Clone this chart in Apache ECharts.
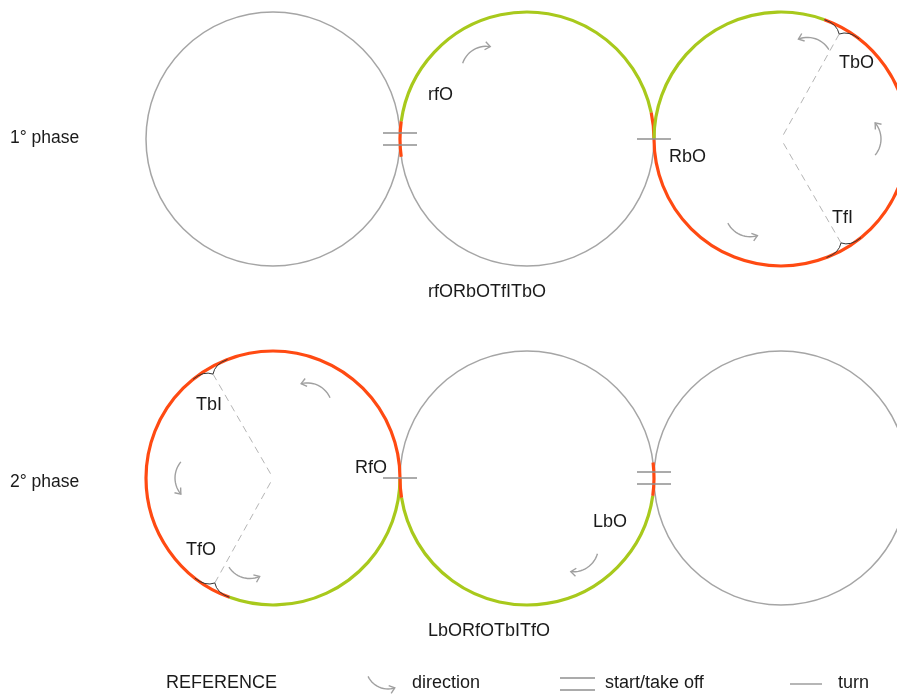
<!DOCTYPE html>
<html><head><meta charset="utf-8">
<script src="https://cdn.jsdelivr.net/npm/echarts@6/dist/echarts.min.js"></script>
<style>html,body{margin:0;padding:0;background:#fff}#c{width:897px;height:694px}</style>
</head><body><div id="c"></div>
<script>
// ---- diagram data ----
const RADIUS = 127;
const circleCenters = [[273,139],[527,139],[781,139],[273,478],[527,478],[781,478]];
// coloured edges: [circle, fromDeg, toDeg (counter-clockwise), edge]
const arcSegments = [
  [1,172,188,'red'],[1,12,172,'green'],[1,0,12,'red'],
  [2,70,180,'green'],[2,180,430,'red'],
  [3,0,250,'red'],[3,250,360,'green'],
  [4,180,189,'red'],[4,189,352,'green'],[4,352,367,'red']
];
// three-turns: [circle, angleDeg]
const turnAngles = [[2,61],[2,-60],[3,120],[3,241]];
// take-off / change marks: [circle, angleDeg, lines]
const takeoffMarks = [[1,180,2],[1,0,1],[4,180,1],[4,0,2]];
// direction arrows: [circle, angleDeg, direction (1 ccw, -1 cw), distance from centre]
const directionArrows = [[1,121,-1,104],[2,71,1,106],[2,0,1,100],[2,247,1,104],
                         [3,64,1,103],[3,180,1,98],[3,253,1,104],[4,304,-1,108]];
const phaseLabels = ['1° phase','2° phase'];
const elementLabels = ['rfO','RbO','TbO','TfI','TbI','RfO','TfO','LbO'];
const sequenceLabels = ['rfORbOTfITbO','LbORfOTbITfO'];
const legendLabels = ['REFERENCE','direction','start/take off','turn'];

// ---- layout / style ----
const EDGE = {gray:'#a5a5a5', green:'#a8c91c', red:'#ff4a12'};
const FONT = '"Liberation Sans", Arial, sans-serif';
const phaseLabelPos = [[10,138],[10,482]];
const elementLabelPos = [[428,95],[669,157],[839,63],[832,218],[196,405],[355,468],[186,550],[593,522]];
const sequenceLabelPos = [[487,292],[489,631]];
const legendLabelPos = [[166,683],[412,683],[605,683],[838,683]];

const D2R = Math.PI/180;
function rPx(api){ return api.size([RADIUS,RADIUS])[0]; }
function polarAxis(ci, deg, dist){
  const c = circleCenters[ci];
  return [c[0] + dist*Math.cos(deg*D2R), c[1] - dist*Math.sin(deg*D2R)];
}
function arrowShapes(api, sx, sy, rho, a0, a1, color){
  const pts = [];
  const n = 14;
  for (let k=0;k<=n;k++){
    const a = (a0 + (a1-a0)*k/n)*D2R;
    pts.push(api.coord([sx + rho*Math.cos(a), sy - rho*Math.sin(a)]));
  }
  const e = a1*D2R, dir = a1 > a0 ? 1 : -1;
  const end = pts[pts.length-1];
  const tx = -dir*Math.sin(e), ty = -dir*Math.cos(e);
  const bx = -tx, by = -ty, L = 6.5, h = 38*D2R;
  const h1 = [end[0] + L*(bx*Math.cos(h) - by*Math.sin(h)), end[1] + L*(bx*Math.sin(h) + by*Math.cos(h))];
  const h2 = [end[0] + L*(bx*Math.cos(-h) - by*Math.sin(-h)), end[1] + L*(bx*Math.sin(-h) + by*Math.cos(-h))];
  return [
    {type:'polyline', shape:{points:pts}, style:{stroke:color, lineWidth:1.4, fill:'none'}},
    {type:'polyline', shape:{points:[h1,end,h2]}, style:{stroke:color, lineWidth:1.4, fill:'none'}}
  ];
}
function textEl(api, txt, pos, size, align){
  const p = api.coord(pos);
  return {type:'text', style:{text:txt, x:p[0], y:p[1], fill:'#1a1a1a', font: size+'px '+FONT,
          align: align || 'left', verticalAlign:'middle'}};
}

const chart = echarts.init(document.getElementById('c'), null, {renderer:'canvas'});
const idx = arr => arr.map((_,i)=>[i,i]);

chart.setOption({
  animation:false,
  backgroundColor:'#ffffff',
  grid:{left:0,right:0,top:0,bottom:0},
  xAxis:{type:'value', min:0, max:897, show:false},
  yAxis:{type:'value', min:0, max:694, inverse:true, show:false},
  series:[
    {
      type:'custom', data: idx(circleCenters), clip:false,
      renderItem(params, api){
        const c = api.coord(circleCenters[params.dataIndex]);
        return {type:'circle', shape:{cx:c[0], cy:c[1], r:rPx(api)}, style:{stroke:EDGE.gray, lineWidth:1.5, fill:'none'}};
      }
    },
    {
      type:'custom', data: idx(arcSegments), clip:false,
      renderItem(params, api){
        const s = arcSegments[params.dataIndex];
        const c = api.coord(circleCenters[s[0]]);
        return {type:'arc', shape:{cx:c[0], cy:c[1], r:rPx(api), startAngle:-s[1]*D2R, endAngle:-s[2]*D2R, clockwise:false},
                style:{stroke:EDGE[s[3]], lineWidth:3.2, fill:'none'}};
      }
    },
    {
      type:'custom', data: idx(turnAngles), clip:false,
      renderItem(params, api){
        const t = turnAngles[params.dataIndex];
        const apex = api.coord(polarAxis(t[0], t[1], RADIUS-7));
        const ctr = api.coord(circleCenters[t[0]]);
        const kids = [{type:'line', shape:{x1:apex[0], y1:apex[1], x2:ctr[0], y2:ctr[1]},
                       style:{stroke:'#b5b5b5', lineWidth:1, lineDash:[7,5]}}];
        [-1,1].forEach(sd=>{
          const e = api.coord(polarAxis(t[0], t[1]+sd*9, RADIUS));
          const cp = api.coord(polarAxis(t[0], t[1]+sd*3, RADIUS+1));
          kids.push({type:'bezierCurve', shape:{x1:apex[0], y1:apex[1], x2:e[0], y2:e[1], cpx1:cp[0], cpy1:cp[1]},
                     style:{stroke:'#333', lineWidth:1, fill:'none'}});
        });
        return {type:'group', children:kids};
      }
    },
    {
      type:'custom', data: idx(takeoffMarks), clip:false,
      renderItem(params, api){
        const m = takeoffMarks[params.dataIndex];
        const p = polarAxis(m[0], m[1], RADIUS);
        const offs = m[2] === 2 ? [-6,6] : [0];
        return {type:'group', children: offs.map(o=>{
          const a = api.coord([p[0]-17, p[1]+o]), b = api.coord([p[0]+17, p[1]+o]);
          return {type:'line', shape:{x1:a[0], y1:a[1], x2:b[0], y2:b[1]}, style:{stroke:'#8f8f8f', lineWidth:1.4}};
        })};
      }
    },
    {
      type:'custom', data: idx(directionArrows), clip:false,
      renderItem(params, api){
        const [ci, deg, dir, dist] = directionArrows[params.dataIndex];
        const rho = 25, span = 40;
        const m = polarAxis(ci, deg, dist);
        const sx = m[0] - rho*Math.cos(deg*D2R), sy = m[1] + rho*Math.sin(deg*D2R);
        return {type:'group', children: arrowShapes(api, sx, sy, rho, deg - dir*span, deg + dir*span, '#a0a0a0')};
      }
    },
    {
      type:'custom', data: [[0,0]], clip:false,
      renderItem(params, api){
        const kids = [];
        phaseLabels.forEach((t,i)=>kids.push(textEl(api, t, phaseLabelPos[i], 17.5)));
        elementLabels.forEach((t,i)=>kids.push(textEl(api, t, elementLabelPos[i], 18)));
        sequenceLabels.forEach((t,i)=>kids.push(textEl(api, t, sequenceLabelPos[i], 18, 'center')));
        legendLabels.forEach((t,i)=>kids.push(textEl(api, t, legendLabelPos[i], 18)));
        return {type:'group', children:kids};
      }
    },
    {
      type:'custom', data: [[0,0]], clip:false,
      renderItem(params, api){
        const kids = arrowShapes(api, 388, 667, 22, 205, 288, '#a0a0a0');
        [[560,595,678],[560,595,690],[790,822,684]].forEach(l=>{
          const a = api.coord([l[0], l[2]]), b = api.coord([l[1], l[2]]);
          kids.push({type:'line', shape:{x1:a[0], y1:a[1], x2:b[0], y2:b[1]}, style:{stroke:'#8f8f8f', lineWidth:1.3}});
        });
        return {type:'group', children:kids};
      }
    }
  ]
});
</script>
</body></html>
